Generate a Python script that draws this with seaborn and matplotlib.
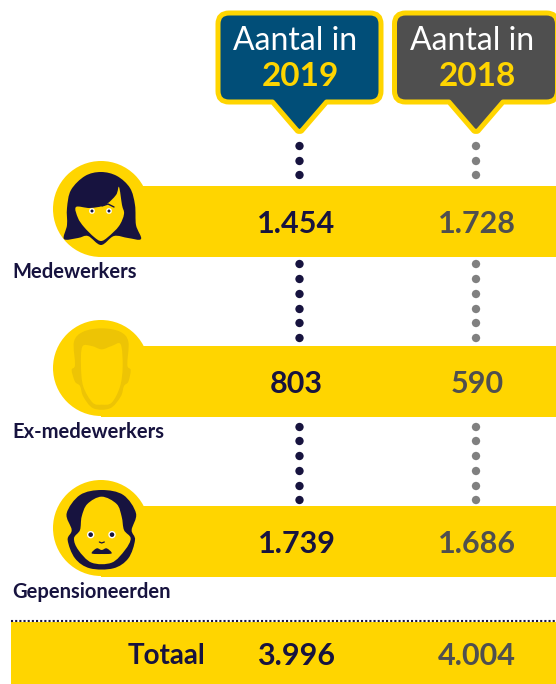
import matplotlib
matplotlib.use('Agg')
import matplotlib.pyplot as plt
from matplotlib.patches import Circle, PathPatch, Rectangle
from matplotlib.path import Path
import numpy as np
import pandas as pd
import seaborn as sns

# data
categories = ['Medewerkers', 'Ex-medewerkers', 'Gepensioneerden']
aantal_2019 = [1454, 803, 1739]
aantal_2018 = [1728, 590, 1686]
totaal_2019 = 3996
totaal_2018 = 4004
jaren = ['2019', '2018']

YELLOW = '#ffd500'
NAVY = '#17133f'
GREY = '#4f4f4f'
BLUE = '#014e78'
DOT_GREY = '#808080'
X_2019, X_2018 = 299.5, 476

sns.set_theme(style='white')
plt.rcParams['font.family'] = ['Lato', 'DejaVu Sans']


def nl(n):
    return f'{n:,}'.replace(',', '.')


def smooth(points):
    # closed catmull-rom curve through the points
    pts = np.array(points, dtype=float)
    n = len(pts)
    verts = [pts[0]]
    codes = [Path.MOVETO]
    for i in range(n):
        p0, p1, p2, p3 = pts[i - 1], pts[i], pts[(i + 1) % n], pts[(i + 2) % n]
        verts += [p1 + (p2 - p0) / 6, p2 - (p3 - p1) / 6, p2]
        codes += [Path.CURVE4] * 3
    return Path(verts, codes)


def bubble(ax, cx, color):
    l, r, t, b, tip, rad = cx - 81.5, cx + 81.5, 13, 102, 131, 11
    verts = [(l + rad, t), (r - rad, t), (r, t), (r, t + rad), (r, b - rad), (r, b), (r - rad, b),
             (cx + 27, b), (cx + 2, tip), (cx, tip + 1), (cx - 2, tip), (cx - 27, b),
             (l + rad, b), (l, b), (l, b - rad), (l, t + rad), (l, t), (l + rad, t), (l + rad, t)]
    codes = [Path.MOVETO, Path.LINETO, Path.CURVE3, Path.CURVE3, Path.LINETO, Path.CURVE3, Path.CURVE3,
             Path.LINETO, Path.LINETO, Path.CURVE3, Path.CURVE3, Path.LINETO,
             Path.LINETO, Path.CURVE3, Path.CURVE3, Path.LINETO, Path.CURVE3, Path.CURVE3, Path.CLOSEPOLY]
    ax.add_patch(PathPatch(Path(verts, codes), fc=color, ec=YELLOW, lw=3.6, joinstyle='round', zorder=3))


def blob(ax, points, color, z=5):
    ax.add_patch(PathPatch(smooth(points), fc=color, ec='none', zorder=z))


def z2(points):
    return [(x / 3, 300 + y / 3) for x, y in points]


def woman(ax):
    blob(ax, [(101, 172), (85, 176), (71, 190), (67, 208), (67, 225), (64, 239), (78, 238), (88, 236),
              (101, 245), (114, 236), (128, 238), (141, 239), (136, 225), (135, 205), (130, 188), (117, 176)], NAVY)
    blob(ax, [(76, 207), (90, 208), (105, 205), (116, 195), (119, 187), (122, 205), (124, 214), (119, 226),
              (108, 237), (101, 241), (94, 237), (84, 227), (78, 218)], YELLOW, 6)
    ax.add_patch(Circle((92, 211), 2.2, fc=NAVY, zorder=7))
    ax.add_patch(Circle((109, 211), 2.2, fc=NAVY, zorder=7))
    ax.plot([102, 108, 114], [206, 204, 207], color=NAVY, lw=1, zorder=7)


def ex_man(ax):
    blob(ax, z2([(305, 85), (250, 95), (222, 125), (225, 195), (215, 210), (225, 245), (240, 258), (250, 290),
                 (280, 325), (330, 325), (362, 290), (372, 258), (385, 245), (392, 210), (382, 195), (385, 125), (360, 95)]),
         '#edc405')
    blob(ax, z2([(247, 140), (275, 138), (305, 148), (335, 138), (362, 133), (368, 200), (360, 260), (335, 308),
                 (305, 314), (278, 308), (250, 260), (243, 200)]), YELLOW, 6)


def old_man(ax):
    blob(ax, z2([(305, 570), (370, 585), (408, 640), (395, 690), (405, 720), (385, 775), (340, 805), (270, 805),
                 (225, 775), (203, 720), (215, 690), (200, 640), (240, 585)]), NAVY)
    blob(ax, z2([(305, 590), (350, 612), (365, 650), (372, 690), (392, 715), (375, 750), (335, 788), (275, 788),
                 (235, 750), (222, 715), (240, 690), (245, 650), (262, 612)]), YELLOW, 6)
    ax.add_patch(Circle((272 / 3, 300 + 704 / 3), 3, fc=NAVY, zorder=7))
    ax.add_patch(Circle((336 / 3, 300 + 704 / 3), 3, fc=NAVY, zorder=7))
    blob(ax, z2([(275, 760), (290, 745), (305, 750), (320, 745), (335, 760), (305, 762)]), NAVY, 7)
    ax.plot([298 / 3, 305 / 3, 313 / 3], [300 + 726 / 3, 300 + 729 / 3, 300 + 726 / 3], color=NAVY, lw=0.9, zorder=7)


fig = plt.figure(figsize=(5.56, 6.84), dpi=100)
ax = fig.add_axes([0, 0, 1, 1])
ax.set_xlim(0, 556)
ax.set_ylim(684, 0)
ax.axis('off')

# connecting dots
dot_y = [146, 161, 175, 264, 279, 294, 309, 323, 338, 427, 441, 456, 471, 486, 500]
dots = pd.DataFrame({'x': [X_2019] * len(dot_y) + [X_2018] * len(dot_y),
                     'y': dot_y * 2,
                     'jaar': ['2019'] * len(dot_y) + ['2018'] * len(dot_y)})
sns.scatterplot(data=dots, x='x', y='y', hue='jaar', palette={'2019': NAVY, '2018': DOT_GREY},
                s=36, linewidth=0, legend=False, ax=ax, zorder=2)

# bands and head circles
band_top = [186, 346, 506]
circle_y = [209, 368, 528]
for top, cy in zip(band_top, circle_y):
    ax.add_patch(Rectangle((101, top), 460, 70.5, fc=YELLOW, ec='none', zorder=2))
    ax.add_patch(Circle((101, cy), 48, fc=YELLOW, ec='none', zorder=2))
woman(ax)
ex_man(ax)
old_man(ax)

# values
for i, name in enumerate(categories):
    mid = band_top[i] + 38
    ax.text(X_2019 - 3, mid, nl(aantal_2019[i]), color=NAVY, fontsize=22, fontweight='bold',
            ha='center', va='center', zorder=4)
    ax.text(X_2018 + 1, mid, nl(aantal_2018[i]), color=GREY, fontsize=22, fontweight='bold',
            ha='center', va='center', zorder=4)
    ax.text(12, band_top[i] + 86, name, color=NAVY, fontsize=14.5, fontweight='bold',
            ha='left', va='center', zorder=4)

# header bubbles
for cx, col, jaar in zip([X_2019, X_2018], [BLUE, GREY], jaren):
    bubble(ax, cx, col)
    ax.text(cx - 4, 41, 'Aantal in', color='white', fontsize=23, ha='center', va='center', zorder=4)
    ax.text(cx + 1, 76, jaar, color=YELLOW, fontsize=24, fontweight='bold', ha='center', va='center', zorder=4)

# total row
ax.add_patch(Rectangle((11, 622), 550, 70, fc=YELLOW, ec='none', zorder=2))
ax.plot([11, 556], [621, 621], color=NAVY, lw=1.5, ls=(0, (1, 1)), zorder=3)
ax.text(205, 656, 'Totaal', color=NAVY, fontsize=20, fontweight='bold', ha='right', va='center', zorder=4)
ax.text(X_2019 - 3, 656, nl(totaal_2019), color=NAVY, fontsize=22, fontweight='bold', ha='center', va='center', zorder=4)
ax.text(X_2018 + 1, 656, nl(totaal_2018), color=GREY, fontsize=22, fontweight='bold', ha='center', va='center', zorder=4)

fig.savefig('out.png', dpi=100)
